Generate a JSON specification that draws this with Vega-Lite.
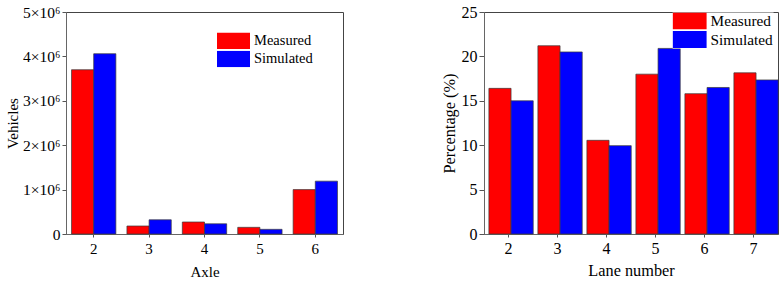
{
  "$schema": "https://vega.github.io/schema/vega-lite/v6.json",
  "padding": {"left": 5, "top": 3, "right": 0, "bottom": 0},
  "spacing": 96,
  "config": {
    "font": "Liberation Serif",
    "view": {"stroke": "#444", "strokeWidth": 1},
    "axis": {
      "labelFont": "Liberation Serif",
      "titleFont": "Liberation Serif",
      "labelFontSize": 15,
      "titleFontSize": 15,
      "titleFontWeight": "normal",
      "labelColor": "#000",
      "titleColor": "#000",
      "domainColor": "#666",
      "tickColor": "#555",
      "tickSize": 4,
      "grid": false
    },
    "legend": {
      "labelFont": "Liberation Serif",
      "labelFontSize": 14.5,
      "labelColor": "#000",
      "labelOffset": 4,
      "padding": 0,
      "symbolType": "M-1,-0.5H1V0.5H-1Z",
      "symbolStrokeWidth": 0,
      "symbolOpacity": 1
    }
  },
  "hconcat": [
    {
      "width": 277,
      "height": 222,
      "data": {
        "values": [
          {"axle": "2", "series": "Measured", "vehicles": 3700000},
          {"axle": "2", "series": "Simulated", "vehicles": 4060000},
          {"axle": "3", "series": "Measured", "vehicles": 180000},
          {"axle": "3", "series": "Simulated", "vehicles": 320000},
          {"axle": "4", "series": "Measured", "vehicles": 270000},
          {"axle": "4", "series": "Simulated", "vehicles": 230000},
          {"axle": "5", "series": "Measured", "vehicles": 150000},
          {"axle": "5", "series": "Simulated", "vehicles": 105000},
          {"axle": "6", "series": "Measured", "vehicles": 1000000},
          {"axle": "6", "series": "Simulated", "vehicles": 1190000}
        ]
      },
      "mark": {"type": "bar", "stroke": "#3a3a3a", "strokeWidth": 0.7},
      "encoding": {
        "x": {
          "field": "axle", "type": "nominal", "title": "Axle",
          "scale": {"paddingInner": 0.2, "paddingOuter": 0.1},
          "axis": {"labelAngle": 0, "labelPadding": 4, "titlePadding": 8, "tickSize": 3}
        },
        "xOffset": {"field": "series", "type": "nominal", "scale": {"paddingInner": 0, "paddingOuter": 0}},
        "y": {
          "field": "vehicles", "type": "quantitative", "title": "Vehicles",
          "scale": {"domain": [0, 5000000], "nice": false},
          "axis": {
            "values": [0, 1000000, 2000000, 3000000, 4000000, 5000000],
            "labelExpr": "datum.value == 0 ? '0' : format(datum.value / 1000000, 'd') + '×10⁶'",
            "labelFontSize": 15.5,
            "labelPadding": 2,
            "titlePadding": 2
          }
        },
        "color": {
          "field": "series", "type": "nominal",
          "scale": {"domain": ["Measured", "Simulated"], "range": ["#ff0000", "#0000ff"]},
          "legend": {"title": null, "orient": "none", "legendX": 151, "legendY": 20.6, "symbolSize": 1089, "clipHeight": 16.5, "rowPadding": 1.2}
        }
      }
    },
    {
      "width": 294,
      "height": 222,
      "data": {
        "values": [
          {"lane": "2", "series": "Measured", "pct": 16.4},
          {"lane": "2", "series": "Simulated", "pct": 15.0},
          {"lane": "3", "series": "Measured", "pct": 21.2},
          {"lane": "3", "series": "Simulated", "pct": 20.5},
          {"lane": "4", "series": "Measured", "pct": 10.55},
          {"lane": "4", "series": "Simulated", "pct": 9.95},
          {"lane": "5", "series": "Measured", "pct": 18.0},
          {"lane": "5", "series": "Simulated", "pct": 20.9},
          {"lane": "6", "series": "Measured", "pct": 15.8},
          {"lane": "6", "series": "Simulated", "pct": 16.5},
          {"lane": "7", "series": "Measured", "pct": 18.15},
          {"lane": "7", "series": "Simulated", "pct": 17.35}
        ]
      },
      "mark": {"type": "bar", "stroke": "#3a3a3a", "strokeWidth": 0.7},
      "encoding": {
        "x": {
          "field": "lane", "type": "nominal", "title": "Lane number",
          "scale": {"paddingInner": 0.2, "paddingOuter": 0.1},
          "axis": {"labelAngle": 0, "labelFontSize": 16, "titleFontSize": 16.3, "labelPadding": 3, "titlePadding": 6, "tickSize": 3}
        },
        "xOffset": {"field": "series", "type": "nominal", "scale": {"paddingInner": 0, "paddingOuter": 0}},
        "y": {
          "field": "pct", "type": "quantitative", "title": "Percentage (%)",
          "scale": {"domain": [0, 25], "nice": false},
          "axis": {"values": [0, 5, 10, 15, 20, 25], "labelFontSize": 16, "titleFontSize": 16.3, "labelPadding": 2, "titlePadding": 4, "tickSize": 5}
        },
        "color": {
          "field": "series", "type": "nominal",
          "scale": {"domain": ["Measured", "Simulated"], "range": ["#ff0000", "#0000ff"]},
          "legend": {"title": null, "orient": "none", "legendX": 188.6, "legendY": 0.6, "symbolSize": 1156, "clipHeight": 17, "rowPadding": 1.4, "labelFontSize": 15.3, "fillColor": "#fff"}
        }
      }
    }
  ],
  "resolve": {"scale": {"color": "independent"}, "legend": {"color": "independent"}}
}
